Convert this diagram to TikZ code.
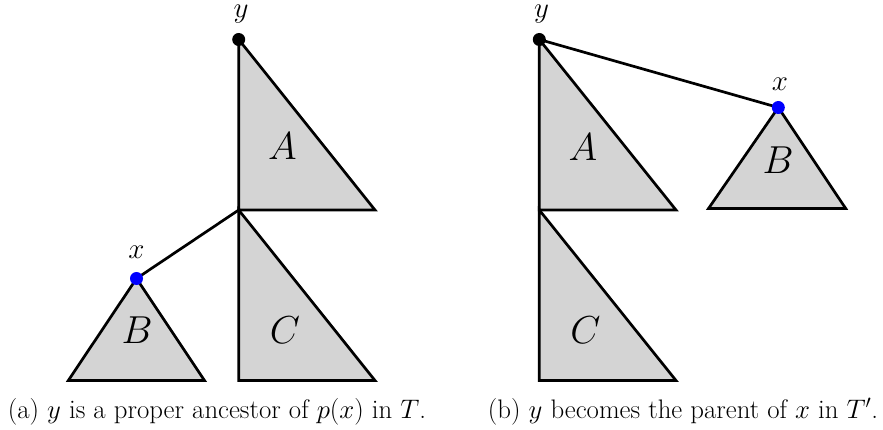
\RequirePackage{fix-cm}
\documentclass[tikz,border=0pt]{standalone}
\begin{document}
\begin{tikzpicture}[x=1pt,y=-1pt,
  tri/.style={draw=black,fill=black!17,line width=2.7pt,line join=miter},
  edge/.style={draw=black,line width=2.7pt},
  vlab/.style={font=\fontsize{29}{33}\selectfont,inner sep=0pt},
  tlab/.style={font=\fontsize{39}{45}\selectfont,inner sep=0pt},
  captext/.style={font=\fontsize{26.8}{31}\selectfont,inner sep=0pt,anchor=base},
  blackdot/.style={circle,fill=black,minimum size=13pt,inner sep=0pt},
  bluedot/.style={circle,fill=blue,minimum size=13pt,inner sep=0pt}]
\useasboundingbox (0,0) rectangle (883,430);
% ---- (a)
\coordinate (ya) at (238.7,39.5);
\coordinate (ja) at (238.7,210);
\coordinate (xa) at (136.5,278.5);
\filldraw[tri] (ya) -- (ja) -- (375,210) -- cycle;
\filldraw[tri] (ja) -- (238.7,380.5) -- (375,380.5) -- cycle;
\filldraw[tri] (xa) -- (68.3,380.5) -- (204.5,380.5) -- cycle;
\draw[edge] (ja) -- (xa);
\node[blackdot] (yadot) at (ya) {};
\node[bluedot] (xadot) at (xa) {};
\node[vlab] (yalab) at (241,14.5) {$y$};
\node[vlab] (xalab) at (136.5,252) {$x$};
\node[tlab] (Aa) at (282.5,146.5) {$A$};
\node[tlab] (Ba) at (137,330) {$B$};
\node[tlab] (Ca) at (285,330) {$C$};
\node[captext] (capa) at (217,418) {(a) $y$ is a proper ancestor of $p(x)$ in $T$.};
% ---- (b)
\coordinate (yb) at (539.3,39.5);
\coordinate (jb) at (539.3,210);
\coordinate (xb) at (778.3,107.5);
\filldraw[tri] (yb) -- (jb) -- (676,210) -- cycle;
\filldraw[tri] (jb) -- (539.3,380.5) -- (676,380.5) -- cycle;
\filldraw[tri] (xb) -- (708.5,208.5) -- (845.7,208.5) -- cycle;
\draw[edge] (yb) -- (xb);
\node[blackdot] (ybdot) at (yb) {};
\node[bluedot] (xbdot) at (xb) {};
\node[vlab] (yblab) at (541.5,14.5) {$y$};
\node[vlab] (xblab) at (780,84.5) {$x$};
\node[tlab] (Ab) at (583,147) {$A$};
\node[tlab] (Bb) at (778,160) {$B$};
\node[tlab] (Cb) at (585.5,330) {$C$};
\node[captext] (capb) at (683,418) {(b) $y$ becomes the parent of $x$ in $T'$.};
\end{tikzpicture}
\end{document}
